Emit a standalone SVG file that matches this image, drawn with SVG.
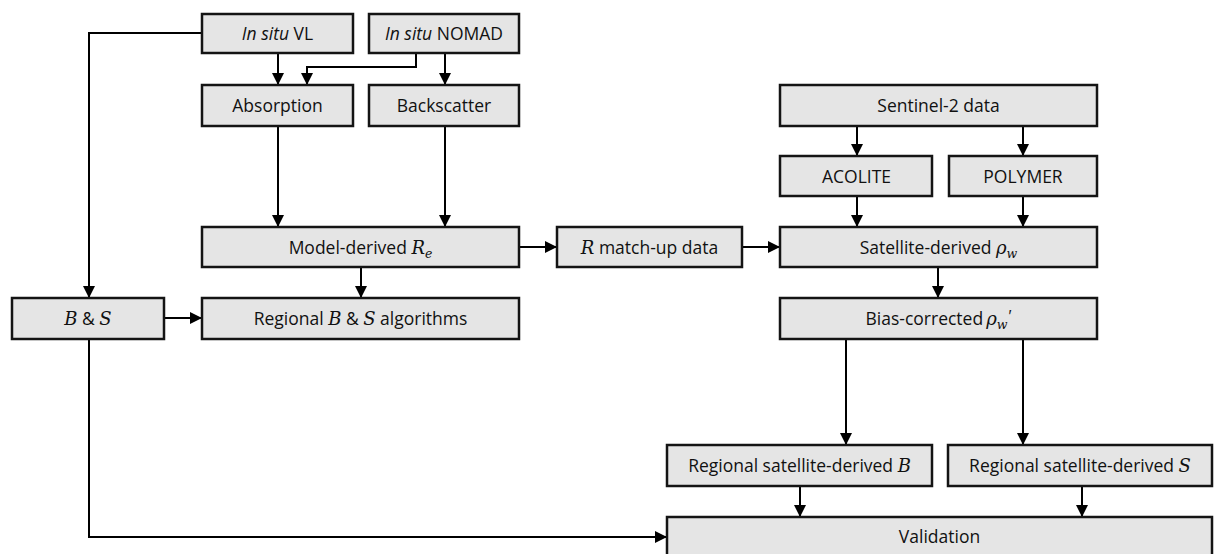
<svg xmlns="http://www.w3.org/2000/svg" width="1214" height="554" viewBox="0 0 1214 554">
<defs>
<style>
.box{fill:#e5e5e5;stroke:#141414;stroke-width:2.5}
.t{font-family:"Open Sans","Noto Sans",sans-serif;font-size:17.5px;fill:#111;text-anchor:middle}
.i{font-style:italic}
.m{font-family:"DejaVu Serif","Liberation Serif",serif;font-style:italic;font-size:18px}
.s{font-family:"DejaVu Serif","Liberation Serif",serif;font-style:italic;font-size:12.5px}
.p{font-family:"Liberation Sans",sans-serif;font-size:16px}
.c{fill:none;stroke:#000;stroke-width:2}
</style>
<marker id="a" markerUnits="userSpaceOnUse" markerWidth="12" markerHeight="13" viewBox="0 0 12 13" refX="12" refY="6.5" orient="auto">
<path d="M0,0.5 L12,6.5 L0,12.5 Z" fill="#000"/>
</marker>
</defs>
<g id="connectors">
<path class="c" d="M202,33 H89 V298" marker-end="url(#a)"/>
<path class="c" d="M278,53 V85" marker-end="url(#a)"/>
<path class="c" d="M416,53 V67 H307 V85" marker-end="url(#a)"/>
<path class="c" d="M445,53 V85" marker-end="url(#a)"/>
<path class="c" d="M278,126 V227" marker-end="url(#a)"/>
<path class="c" d="M445,126 V227" marker-end="url(#a)"/>
<path class="c" d="M361,267 V298" marker-end="url(#a)"/>
<path class="c" d="M519,247 H557" marker-end="url(#a)"/>
<path class="c" d="M742,247 H780" marker-end="url(#a)"/>
<path class="c" d="M164,318 H202" marker-end="url(#a)"/>
<path class="c" d="M89,339 V537 H667" marker-end="url(#a)"/>
<path class="c" d="M857,126 V156" marker-end="url(#a)"/>
<path class="c" d="M1023,126 V156" marker-end="url(#a)"/>
<path class="c" d="M857,196 V227" marker-end="url(#a)"/>
<path class="c" d="M1023,196 V227" marker-end="url(#a)"/>
<path class="c" d="M938,267 V298" marker-end="url(#a)"/>
<path class="c" d="M846,339 V445" marker-end="url(#a)"/>
<path class="c" d="M1023,339 V445" marker-end="url(#a)"/>
<path class="c" d="M800,486 V517" marker-end="url(#a)"/>
<path class="c" d="M1082,486 V517" marker-end="url(#a)"/>
</g>
<g id="insitu-vl"><rect class="box" x="202" y="14" width="151" height="39"/><text class="t" x="277.5" y="40"><tspan class="i">In situ</tspan> VL</text></g>
<g id="insitu-nomad"><rect class="box" x="369" y="14" width="150" height="39"/><text class="t" x="444" y="40"><tspan class="i">In situ</tspan> NOMAD</text></g>
<g id="absorption"><rect class="box" x="202" y="85" width="151" height="41"/><text class="t" x="277.5" y="112">Absorption</text></g>
<g id="backscatter"><rect class="box" x="369" y="85" width="150" height="41"/><text class="t" x="444" y="112">Backscatter</text></g>
<g id="sentinel"><rect class="box" x="780" y="85" width="317" height="41"/><text class="t" x="938.5" y="112">Sentinel-2 data</text></g>
<g id="acolite"><rect class="box" x="780" y="156" width="152" height="40"/><text class="t" x="856.5" y="182.5">ACOLITE</text></g>
<g id="polymer"><rect class="box" x="949" y="156" width="148" height="40"/><text class="t" x="1023" y="182.5">POLYMER</text></g>
<g id="model"><rect class="box" x="202" y="227" width="317" height="40"/><text class="t" x="360.5" y="253.5">Model-derived <tspan class="m">R</tspan><tspan class="s" dy="4">e</tspan></text></g>
<g id="rmatch"><rect class="box" x="557" y="227" width="185" height="40"/><text class="t" x="649.5" y="253.5"><tspan class="m">R</tspan> match-up data</text></g>
<g id="satellite"><rect class="box" x="780" y="227" width="317" height="40"/><text class="t" x="938.5" y="253.5">Satellite-derived <tspan class="m">ρ</tspan><tspan class="s" dy="4">w</tspan></text></g>
<g id="bs"><rect class="box" x="12" y="298" width="152" height="41"/><text class="t" x="88" y="325"><tspan class="m">B</tspan> &amp; <tspan class="m">S</tspan></text></g>
<g id="regional"><rect class="box" x="202" y="298" width="317" height="41"/><text class="t" x="360.5" y="325">Regional <tspan class="m">B</tspan> &amp; <tspan class="m">S</tspan> algorithms</text></g>
<g id="bias"><rect class="box" x="780" y="298" width="317" height="41"/><text class="t" x="938.5" y="325">Bias-corrected<tspan class="m" dx="3">ρ</tspan><tspan class="s" dy="4">w</tspan><tspan class="p" dx="1" dy="-7">′</tspan></text></g>
<g id="regb"><rect class="box" x="667" y="445" width="265" height="41"/><text class="t" x="799.5" y="472">Regional satellite-derived <tspan class="m">B</tspan></text></g>
<g id="regs"><rect class="box" x="948" y="445" width="264" height="41"/><text class="t" x="1080" y="472">Regional satellite-derived <tspan class="m">S</tspan></text></g>
<g id="validation"><rect class="box" x="667" y="517" width="545" height="45"/><text class="t" x="939.5" y="543">Validation</text></g>
</svg>
